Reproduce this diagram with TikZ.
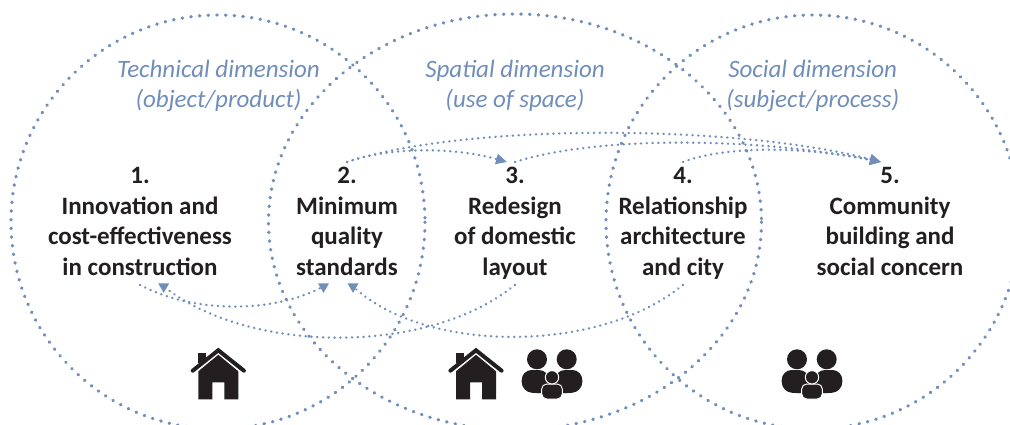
\documentclass[tikz,border=0pt]{standalone}
\usepackage{fontspec}
\setmainfont{Carlito}
\usetikzlibrary{arrows.meta}
\usetikzlibrary{shapes.geometric}
\definecolor{dimblue}{RGB}{112,142,185}
\definecolor{ink}{RGB}{35,31,32}
\tikzset{
	ring/.style={draw=dimblue, line width=3.4pt, line cap=round, dash pattern=on 0.4pt off 8.3pt},
	link/.style={draw=dimblue, line width=2.4pt, line cap=round, dash pattern=on 0.3pt off 5.5pt},
	linktip/.style={-{Triangle[length=11pt,width=10pt,fill=dimblue]}},
	tipdown/.style={regular polygon, regular polygon sides=3, regular polygon rotate=180, fill=dimblue, inner sep=0pt, outer sep=0pt, minimum size=12.7pt},
	item/.style={align=center, inner sep=0pt, text=ink, font=\fontsize{25}{30.6}\selectfont\bfseries},
	dimlabel/.style={align=center, inner sep=0pt, text=dimblue, font=\fontsize{25}{30}\selectfont\itshape},
	house/.pic={
		\fill[ink] (-20,-46)--(-12.3,-46)--(-12.3,-36)--(-20,-36)--cycle;
		\fill[ink] (-20,0)--(-20,-28)--(0,-44.5)--(20,-28)--(20,0)--(6,0)--(6,-17)--(-6,-17)--(-6,0)--cycle;
		\draw[ink, line width=4pt, line cap=round] (-25.6,-28.6)--(0,-49)--(25.6,-28.6);
	},
	family/.pic={
		\fill[ink] (-15,-39.7) circle [radius=10];
		\fill[ink] (14.7,-39.7) circle [radius=10];
		\fill[ink, rounded corners=10pt] (-30.3,-7)--(-30.3,-29)--(-3,-29)--(-3,-5)--cycle;
		\fill[ink, rounded corners=10pt] (30.3,-7)--(30.3,-29)--(3,-29)--(3,-5)--cycle;
		\filldraw[fill=ink, draw=white, line width=1pt, rounded corners=5pt] (-10.3,0)--(-10.3,-15)--(10.3,-15)--(10.3,0)--cycle;
		\filldraw[fill=ink, draw=white, line width=1pt] (0,-21.7) circle [radius=6.7];
	},
}
\begin{document}
\begin{tikzpicture}[x=1pt, y=-1pt]
	\path[clip, use as bounding box] (0,0) rectangle (1010,425);

	\draw[ring] (218,222) circle [radius=207];
	\draw[ring] (515,222) ellipse [x radius=246.5, y radius=208];
	\draw[ring] (813,222) circle [radius=207];

	\node[dimlabel] (dim1) at (218.5,86) {Technical dimension\\(object/product)};
	\node[dimlabel] (dim2) at (515,86) {Spatial dimension\\(use of space)};
	\node[dimlabel] (dim3) at (812.7,86) {Social dimension\\(subject/process)};

	\node[item] (n1) at (140,223.4) {\strut 1.\\Innovation and\\cost-effectiveness\\in construction\strut};
	\node[item] (n2) at (347,223.4) {\strut 2.\\Minimum\\quality\\standards\strut};
	\node[item] (n3) at (515,223.4) {\strut 3.\\Redesign\\of domestic\\layout\strut};
	\node[item] (n4) at (683,223.4) {\strut 4.\\Relationship\\architecture\\and city\strut};
	\node[item] (n5) at (890,223.4) {\strut 5.\\Community\\building and\\social concern\strut};

	\node[tipdown] (tip1) at (163.7,286.5) {};
	\node[tipdown] (tip2a) at (323.5,286.5) {};
	\node[tipdown] (tip2b) at (353,286.5) {};

	\draw[link] (n1.south) .. controls (190,312) and (270,315) .. (tip2a.center);
	\draw[link] (n3.south) .. controls (430,355) and (250,355) .. (tip1.center);
	\draw[link] (n4.south) .. controls (600,354) and (425,354) .. (tip2b.center);

	\draw[link, linktip] (n2.north) .. controls (385,148) and (450,146) .. ([xshift=-8pt]n3.north);
	\draw[link, linktip] (n2.north) .. controls (470,122) and (740,125) .. ([xshift=-9pt]n5.north);
	\draw[link, linktip] (n3.north) .. controls (600,135) and (760,138) .. ([xshift=-9pt]n5.north);
	\draw[link, linktip] (n4.north) .. controls (725,146) and (800,146) .. ([xshift=-9pt]n5.north);

	\pic at (218.3,399.3) {house};
	\pic at (476,399.3) {house};
	\pic at (552,399) {family};
	\pic at (812,399) {family};
\end{tikzpicture}
\end{document}
